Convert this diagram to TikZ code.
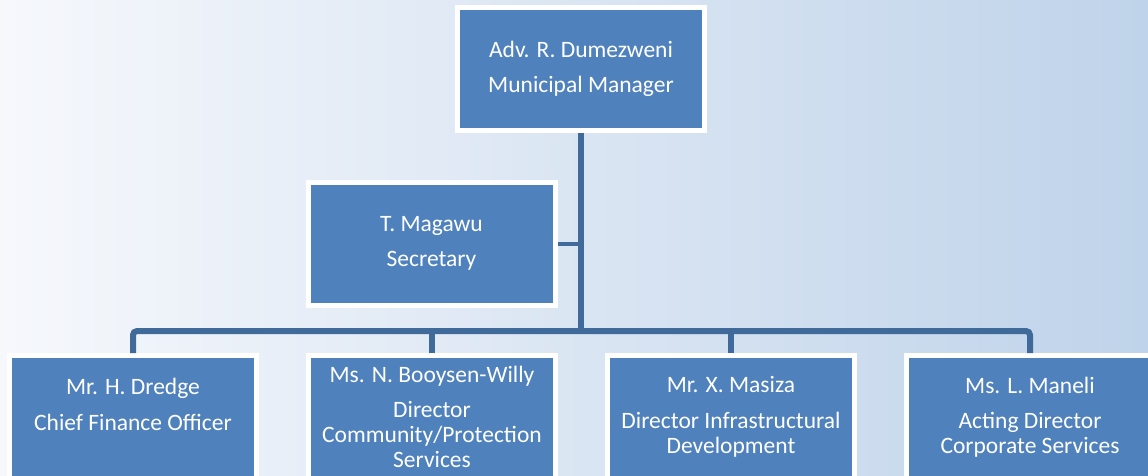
\documentclass[tikz,border=0pt]{standalone}
\usepackage{fontspec}
\setmainfont{Carlito}
\usetikzlibrary{positioning}
\definecolor{boxblue}{HTML}{4F81BD}
\definecolor{linkblue}{HTML}{3F6A9A}
\definecolor{bgleft}{HTML}{F6F8FC}
\definecolor{bgright}{HTML}{BFD3EA}
\tikzset{
  post/.style={fill=boxblue, draw=white, line width=5pt, inner sep=0pt,
    minimum width=247pt, minimum height=123pt, text=white, align=center,
    font=\fontsize{23.5}{25}\selectfont},
  link/.style={draw=linkblue, line width=6pt},
}
\begin{document}
\begin{tikzpicture}[x=1pt, y=-1pt]
  \def\gap{10.5pt}
  \clip (0,0) rectangle (1148,475);
  \shade[left color=bgleft, right color=bgright] (0,0) rectangle (1148,475);
  % top of the tree
  \node[post] (mm) at (581,69) {Adv. R. Dumezweni\\[\gap]Municipal Manager};
  \node[post] (sec) at (431.5,243.5) {T. Magawu\\[\gap]Secretary};
  \coordinate (hub) at (581,331);
  % directors
  \node[post] (cfo) at (133,417) {Mr. H. Dredge\\[\gap]Chief Finance Officer\\ ~};
  \node[post] (comm) at (432,417)
    {Ms. N. Booysen-Willy\\[\gap]Director\\Community/Protection\\Services};
  \node[post] (infra) at (731,417)
    {Mr. X. Masiza\\[\gap]Director Infrastructural\\Development};
  \node[post] (corp) at (1030,417)
    {Ms. L. Maneli\\[\gap]Acting Director\\Corporate Services};
  \draw[link] (mm) -- (hub);
  \draw[link, line width=4pt] (sec.east) -- (sec.east -| hub);
  \draw[link, rounded corners=4pt] (cfo.north) |- (hub) -| (corp.north);
  \draw[link] (comm.north) -- (comm.north |- hub);
  \draw[link] (infra.north) -- (infra.north |- hub);
\end{tikzpicture}
\end{document}
